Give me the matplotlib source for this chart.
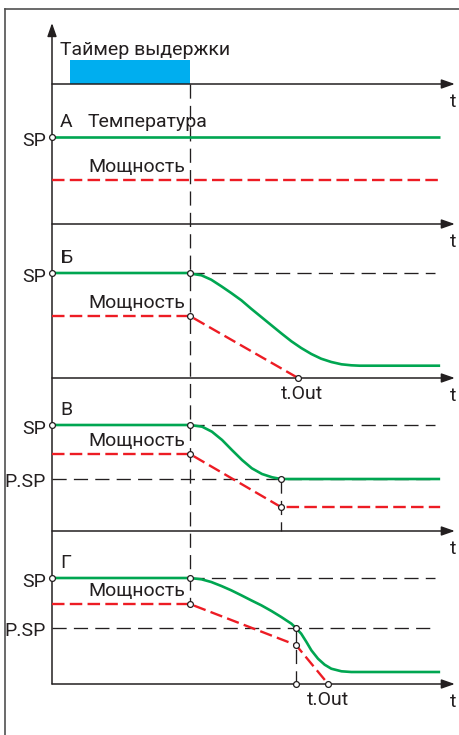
import matplotlib
matplotlib.use('Agg')
import matplotlib.pyplot as plt
from matplotlib.lines import Line2D

plt.rcParams['font.family'] = ['Roboto', 'DejaVu Sans']
plt.rcParams['lines.scale_dashes'] = False

# ---------------- data ----------------
# time in arbitrary units (0 = origin of the time axes),
# values = height above the time axis of each panel
timer_t = [5.1, 39.4]          # delay timer on / off
t_hold = 39.4                  # end of holding time
t_line_end = 110.9
t_ref_end = 109.4
t_axis_end = 115.1
timer_level = 24

panel_letters = ['А', 'Б', 'В', 'Г']
sp_levels = [87, 105, 106, 106]
psp_levels = [None, None, 52, 56]

a_temp_t = [0, 110.9]
a_temp_v = [87, 87]
a_power_t = [0, 110.9]
a_power_v = [44, 44]

b_temp_t = [0, 39.4, 39.8, 42.7, 45.5, 48.4, 51.2, 54.1, 56.9, 59.8, 62.7, 65.5, 68.4, 71.2,
            74.1, 76.9, 79.8, 82.7, 85.5, 87.9, 110.9]
b_temp_v = [105, 105, 104.3, 102.7, 98.3, 91.7, 85.0, 77.7, 69.3, 61.0, 52.7, 44.7, 36.7, 30.0,
            24.0, 19.3, 16.0, 13.7, 12.7, 12.3, 12.3]
b_power_t = [0, 39.4, 70.3]
b_power_v = [62, 62, 0]
b_tout = 70.3

v_temp_t = [0, 39.4, 42.9, 45.7, 48.6, 51.4, 54.3, 57.1, 60.0, 62.9, 65.4, 110.9]
v_temp_v = [106, 106, 104.3, 99.3, 91.0, 81.0, 71.0, 62.7, 57.0, 53.7, 52.0, 52.0]
v_power_t = [0, 39.4, 65.4, 110.9]
v_power_v = [77, 77, 24, 24]
v_tpsp = 65.4

g_temp_t = [0, 39.4, 42.7, 45.5, 48.4, 51.2, 54.1, 56.9, 59.8, 62.7, 65.5, 68.4, 69.7, 71.2,
            72.7, 74.1, 76.0, 77.9, 79.8, 82.7, 85.5, 110.9]
g_temp_v = [106, 106, 104.7, 102.0, 98.0, 93.7, 88.7, 83.7, 78.7, 73.0, 67.0, 60.3, 56.0, 50.3,
            42.0, 33.7, 25.3, 19.3, 15.3, 12.7, 12.0, 12.0]
g_power_t = [0, 39.4, 69.7, 78.9]
g_power_v = [80, 80, 39, 0]
g_tpsp = 69.7
g_tout = 78.9

# ---------------- layout ----------------
FIG_W, FIG_H = 460, 735
X0_PX, PX_PER_T = 52, 3.5
timer_base = 84
panel_bases = [224, 378, 531, 684]
axis_top = 23

GREEN = '#00a651'
RED = '#ed1c24'
BLUE = '#00aeef'
INK = '#231f20'
BORDER = '#505050'
FS = 14.0

fig = plt.figure(figsize=(FIG_W / 100, FIG_H / 100), dpi=100)
ax = fig.add_axes([0, 0, 1, 1])
ax.set_xlim(-X0_PX / PX_PER_T, (FIG_W - X0_PX) / PX_PER_T)
ax.set_ylim(FIG_H, 0)
ax.axis('off')

def tx(px):
    return (px - X0_PX) / PX_PER_T

def Y(base, vals):
    return [base - v for v in vals]

# outer border
fig.add_artist(Line2D([5 / FIG_W, 5 / FIG_W], [0, 1 - 9 / FIG_H], transform=fig.transFigure,
                      color=BORDER, lw=1.2))
fig.add_artist(Line2D([5 / FIG_W, 1], [1 - 9 / FIG_H, 1 - 9 / FIG_H], transform=fig.transFigure,
                      color=BORDER, lw=1.2))

def arrow(x0, y0, x1, y1):
    ax.annotate('', xy=(x1, y1), xytext=(x0, y0),
                arrowprops=dict(arrowstyle='-|>,head_length=0.8,head_width=0.28',
                                mutation_scale=10, lw=1.1, color=INK,
                                shrinkA=0, shrinkB=0), zorder=3)

# axes
arrow(0, panel_bases[-1], 0, axis_top)
for base in [timer_base] + panel_bases:
    arrow(0, base, t_axis_end, base)
    ax.text(tx(453), base + 23, 't', ha='center', va='baseline', fontsize=FS, color=INK)

# timer
ax.bar(timer_t[0], timer_level, width=timer_t[1] - timer_t[0], bottom=timer_base - timer_level,
       align='edge', color=BLUE, zorder=2)
ax.text(tx(60), 55, 'Таймер выдержки', ha='left', va='baseline', fontsize=FS, color=INK)

ref_kw = dict(color=INK, lw=0.95, dashes=(10.2, 5.2), zorder=2)
red_kw = dict(color=RED, lw=1.7, dashes=(9.0, 3.8), zorder=4)
green_kw = dict(color=GREEN, lw=1.9, zorder=5, solid_joinstyle='round', solid_capstyle='butt')
mk_kw = dict(ls='none', marker='o', ms=4.2, mfc='white', mec=INK, mew=0.9, zorder=7)

# vertical dashed line at end of hold
ax.plot([t_hold, t_hold], [timer_base, panel_bases[3] - g_power_v[0]], **ref_kw)

temps = [(a_temp_t, a_temp_v), (b_temp_t, b_temp_v), (v_temp_t, v_temp_v), (g_temp_t, g_temp_v)]
powers = [(a_power_t, a_power_v), (b_power_t, b_power_v), (v_power_t, v_power_v), (g_power_t, g_power_v)]

for i, base in enumerate(panel_bases):
    sp = sp_levels[i]
    psp = psp_levels[i]
    tt, tv = temps[i]
    pt, pv = powers[i]
    # reference dashed lines
    if i > 0:
        ax.plot([t_hold, t_ref_end], [base - sp, base - sp], **ref_kw)
    if psp is not None:
        ax.plot([0, t_ref_end], [base - psp, base - psp], **ref_kw)
    ax.plot(pt, Y(base, pv), **red_kw)
    ax.plot(tt, Y(base, tv), **green_kw)
    # labels
    ax.text(tx(60), base - sp - 10, panel_letters[i], ha='left', va='baseline', fontsize=FS, color=INK)
    if i == 0:
        ax.text(tx(88), base - sp - 10, 'Температура', ha='left', va='baseline', fontsize=FS, color=INK)
    ax.text(tx(88), base - pv[0] - 8, 'Мощность', ha='left', va='baseline', fontsize=FS, color=INK)
    ax.text(tx(46), base - sp + 9, 'SP', ha='right', va='baseline', fontsize=FS, color=INK)
    if psp is not None:
        ax.text(tx(46), base - psp + 8, 'P.SP', ha='right', va='baseline', fontsize=FS, color=INK)

# panel-specific vertical guides and markers
ax.plot([v_tpsp, v_tpsp], [panel_bases[2] - psp_levels[2], panel_bases[2]], **ref_kw)
ax.plot([g_tpsp, g_tpsp], [panel_bases[3] - psp_levels[3], panel_bases[3]], **ref_kw)

marks = [
    (panel_bases[0], [0], [sp_levels[0]]),
    (panel_bases[1], [0, t_hold, t_hold, b_tout], [sp_levels[1], sp_levels[1], b_power_v[0], 0]),
    (panel_bases[2], [0, t_hold, t_hold, v_tpsp, v_tpsp],
     [sp_levels[2], sp_levels[2], v_power_v[0], psp_levels[2], v_power_v[-1]]),
    (panel_bases[3], [0, t_hold, t_hold, g_tpsp, g_tpsp, g_tpsp, g_tout],
     [sp_levels[3], sp_levels[3], g_power_v[0], psp_levels[3], g_power_v[2], 0, 0]),
]
for base, mt, mv in marks:
    ax.plot(mt, Y(base, mv), **mk_kw)

ax.text(tx(302), panel_bases[1] + 21, 't.Out', ha='center', va='baseline', fontsize=FS, color=INK)
ax.text(g_tout, panel_bases[3] + 21, 't.Out', ha='center', va='baseline', fontsize=FS, color=INK)

fig.savefig('out.png', dpi=100)
